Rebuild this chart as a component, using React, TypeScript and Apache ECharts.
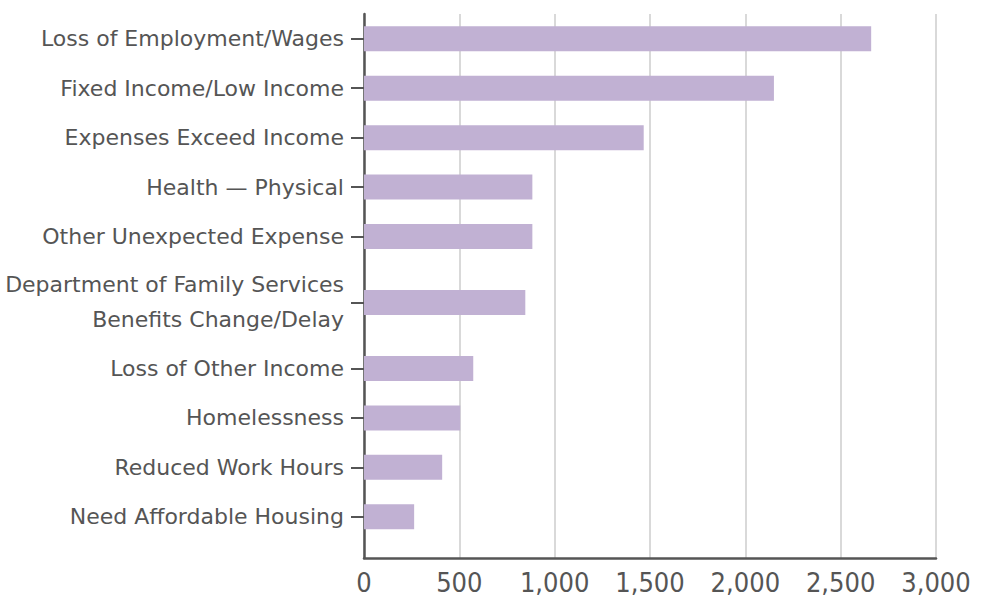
import React, { useEffect, useRef } from 'react';
import * as echarts from 'echarts';

const categories = [
  'Loss of Employment/Wages',
  'Fixed Income/Low Income',
  'Expenses Exceed Income',
  'Health — Physical',
  'Other Unexpected Expense',
  'Department of Family Services\nBenefits Change/Delay',
  'Loss of Other Income',
  'Homelessness',
  'Reduced Work Hours',
  'Need Affordable Housing',
];
const counts = [2660, 2150, 1467, 883, 883, 846, 573, 505, 410, 263];
const xMin = 0;
const xMax = 3000;
const xStep = 500;

const GAP = '__gap';

function buildSlots() {
  const slots: string[] = [];
  const vals: (number | string)[] = [];
  let g = 0;
  const pushGap = (n: number) => {
    for (let k = 0; k < n; k++) {
      slots.push(GAP + g++);
      vals.push('-');
    }
  };
  pushGap(1);
  categories.forEach((c, i) => {
    slots.push(c);
    vals.push(counts[i]);
    if (i < categories.length - 1) {
      const wide = c.includes('\n') || categories[i + 1].includes('\n');
      pushGap(wide ? 3 : 2);
    }
  });
  pushGap(2);
  return { slots, vals };
}

export default function App() {
  const ref = useRef<HTMLDivElement>(null);
  useEffect(() => {
    document.body.style.margin = '0';
    if (!ref.current) return;
    const chart = echarts.init(ref.current, null, { renderer: 'svg' });
    const { slots, vals } = buildSlots();
    const textColor = '#555555';
    const font = 'DejaVu Sans';
    chart.setOption({
      animation: false,
      backgroundColor: '#ffffff',
      textStyle: { fontFamily: font },
      grid: { left: 364, right: 46, top: 14, bottom: 44, containLabel: false },
      xAxis: {
        type: 'value',
        min: xMin,
        max: xMax,
        interval: xStep,
        axisLine: { show: true, onZero: false, lineStyle: { color: '#555555', width: 2.5 } },
        axisTick: { show: false },
        splitLine: { show: true, lineStyle: { color: '#cccccc', width: 1.5 } },
        axisLabel: {
          color: textColor,
          fontSize: 27,
          fontFamily: '"Liberation Sans Narrow", "DejaVu Sans Condensed", "DejaVu Sans"',
          margin: 11,
          formatter: (v: number) => v.toLocaleString('en-US'),
        },
      },
      yAxis: {
        type: 'category',
        inverse: true,
        data: slots,
        boundaryGap: true,
        axisLine: { show: true, lineStyle: { color: '#555555', width: 2.5 } },
        axisTick: {
          show: true,
          alignWithLabel: true,
          length: 13,
          interval: (idx: number, value: string) => !String(value).startsWith(GAP),
          lineStyle: { color: '#555555', width: 2 },
        },
        axisLabel: {
          interval: 0,
          color: textColor,
          fontSize: 22,
          fontFamily: font,
          margin: 20,
          lineHeight: 35,
          align: 'right',
          formatter: (v: string) => (v.startsWith(GAP) ? '' : v),
        },
        splitLine: { show: false },
      },
      series: [
        {
          type: 'bar',
          data: vals,
          barWidth: 25,
          itemStyle: { color: '#c1b1d3' },
          silent: true,
        },
      ],
    });
    return () => chart.dispose();
  }, []);
  return <div ref={ref} style={{ width: 982, height: 602 }} />;
}
